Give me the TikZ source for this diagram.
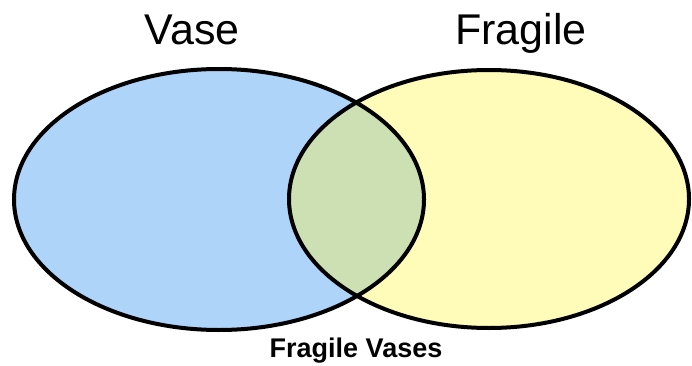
\documentclass[tikz,border=0pt]{standalone}
\usepackage{fontspec}
\setmainfont{Liberation Sans}
\definecolor{vaseColour}{RGB}{174,212,250}
\definecolor{fragileColour}{RGB}{255,251,184}
\definecolor{bothColour}{RGB}{204,224,180}

\begin{document}
\begin{tikzpicture}[x=1pt,y=-1pt,
	setlabel/.style={anchor=base,inner sep=0pt,font=\fontsize{43}{43}\selectfont},
	bothlabel/.style={anchor=base,inner sep=0pt,font=\bfseries\fontsize{27}{27}\selectfont}]
\useasboundingbox (0,0) rectangle (692,366);
% the two sets
\fill[vaseColour] (219,199.5) ellipse (205 and 130.5);
\fill[fragileColour] (489,199) ellipse (200 and 129);
\begin{scope}
	\clip (219,199.5) ellipse (205 and 130.5);
	\fill[bothColour] (489,199) ellipse (200 and 129);
\end{scope}
\draw[line width=4pt] (219,199.5) ellipse (205 and 130.5);
\draw[line width=4pt] (489,199) ellipse (200 and 129);
% labels
\node[setlabel] (vase) at (192,45) {Vase};
\node[setlabel] (fragile) at (521,45) {Fragile};
\node[bothlabel] (both) at (356,357) {Fragile Vases};
\end{tikzpicture}
\end{document}
